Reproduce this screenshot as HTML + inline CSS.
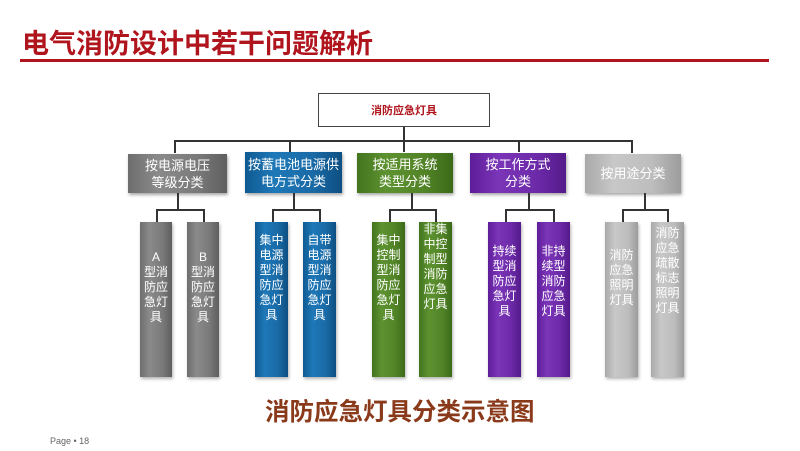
<!DOCTYPE html>
<html><head><meta charset="utf-8"><style>
*{margin:0;padding:0;box-sizing:border-box}
body{width:800px;height:451px;background:#fff;position:relative;overflow:hidden;font-family:"Liberation Sans","Noto Sans CJK SC",sans-serif}
.a{position:absolute}
.t{left:22px;top:22px;font-size:27px;font-weight:bold;color:#b0141c;letter-spacing:0px}
.l{background:#333}
.b{position:absolute;display:flex;align-items:center;justify-content:center;text-align:center;color:#fff;font-size:13px;line-height:17px;box-shadow:1px 2px 3px rgba(0,0,0,.35)}
.f{position:absolute;color:#fff;font-size:12px;line-height:15px;text-align:center;padding:0 3px;box-shadow:1px 2px 3px rgba(0,0,0,.3)}
.g1{background:linear-gradient(90deg,#6e6e6e,#8a8a8a 30%,#7a7a7a 70%,#5e5e5e)}
.g2{background:linear-gradient(90deg,#0f5a92,#1e78b8 30%,#1a6aa6 70%,#0d4f82)}
.g3{background:linear-gradient(90deg,#43741e,#5d9230 30%,#528427 70%,#3b6a18)}
.g4{background:linear-gradient(90deg,#5e1d99,#7b35b8 30%,#6c2aa8 70%,#541a8a)}
.g5{background:linear-gradient(90deg,#a9a9a9,#c8c8c8 30%,#bdbdbd 70%,#9c9c9c)}
</style></head><body>
<div class="a t">电气消防设计中若干问题解析</div>
<div class="a" style="left:20px;top:59px;width:749px;height:3px;background:#b0141c"></div>

<div class="a" style="left:318px;top:93px;width:172px;height:34px;border:1.5px solid #444;display:flex;align-items:center;justify-content:center;font-size:11px;font-weight:bold;color:#b0141c">消防应急灯具</div>
<div class="a l" style="left:403px;top:127px;width:1.5px;height:14px"></div>
<div class="a l" style="left:174px;top:140px;width:458px;height:1.5px"></div>
<div class="a l" style="left:174px;top:140px;width:1.5px;height:13px"></div>
<div class="a l" style="left:289px;top:140px;width:1.5px;height:12px"></div>
<div class="a l" style="left:403px;top:140px;width:1.5px;height:12px"></div>
<div class="a l" style="left:518px;top:140px;width:1.5px;height:12px"></div>
<div class="a l" style="left:631px;top:140px;width:1.5px;height:13px"></div>

<div class="b g1" style="left:128px;top:154px;width:99px;height:39px">按电源电压<br>等级分类</div>
<div class="b g2" style="left:245px;top:152px;width:97px;height:41px">按蓄电池电源供<br>电方式分类</div>
<div class="b g3" style="left:357px;top:153px;width:96px;height:40px">按适用系统<br>类型分类</div>
<div class="b g4" style="left:470px;top:153px;width:96px;height:40px">按工作方式<br>分类</div>
<div class="b g5" style="left:585px;top:154px;width:96px;height:39px">按用途分类</div>

<div class="a l" style="left:177px;top:193px;width:1.5px;height:17px"></div>
<div class="a l" style="left:156px;top:209px;width:48px;height:1.5px"></div>
<div class="a l" style="left:156px;top:209px;width:1.5px;height:13px"></div>
<div class="a l" style="left:203px;top:209px;width:1.5px;height:13px"></div>

<div class="a l" style="left:293px;top:193px;width:1.5px;height:17px"></div>
<div class="a l" style="left:272px;top:209px;width:48px;height:1.5px"></div>
<div class="a l" style="left:272px;top:209px;width:1.5px;height:13px"></div>
<div class="a l" style="left:319px;top:209px;width:1.5px;height:13px"></div>

<div class="a l" style="left:411px;top:193px;width:1.5px;height:17px"></div>
<div class="a l" style="left:389px;top:209px;width:47px;height:1.5px"></div>
<div class="a l" style="left:389px;top:209px;width:1.5px;height:13px"></div>
<div class="a l" style="left:435px;top:209px;width:1.5px;height:13px"></div>

<div class="a l" style="left:528px;top:193px;width:1.5px;height:17px"></div>
<div class="a l" style="left:505px;top:209px;width:49px;height:1.5px"></div>
<div class="a l" style="left:505px;top:209px;width:1.5px;height:13px"></div>
<div class="a l" style="left:553px;top:209px;width:1.5px;height:13px"></div>

<div class="a l" style="left:644px;top:193px;width:1.5px;height:17px"></div>
<div class="a l" style="left:622px;top:209px;width:46px;height:1.5px"></div>
<div class="a l" style="left:622px;top:209px;width:1.5px;height:13px"></div>
<div class="a l" style="left:667px;top:209px;width:1.5px;height:13px"></div>

<div class="f g1" style="left:140px;top:222px;width:32px;height:155px;padding-top:28px">A<br>型消<br>防应<br>急灯<br>具</div>
<div class="f g1" style="left:187px;top:222px;width:32px;height:155px;padding-top:28px">B<br>型消<br>防应<br>急灯<br>具</div>
<div class="f g2" style="left:255px;top:222px;width:33px;height:155px;padding-top:11px">集中<br>电源<br>型消<br>防应<br>急灯<br>具</div>
<div class="f g2" style="left:303px;top:222px;width:33px;height:155px;padding-top:11px">自带<br>电源<br>型消<br>防应<br>急灯<br>具</div>
<div class="f g3" style="left:372px;top:222px;width:33px;height:155px;padding-top:11px">集中<br>控制<br>型消<br>防应<br>急灯<br>具</div>
<div class="f g3" style="left:419px;top:222px;width:33px;height:155px;padding-top:0px">非集<br>中控<br>制型<br>消防<br>应急<br>灯具</div>
<div class="f g4" style="left:488px;top:222px;width:33px;height:155px;padding-top:22px">持续<br>型消<br>防应<br>急灯<br>具</div>
<div class="f g4" style="left:537px;top:222px;width:33px;height:155px;padding-top:22px">非持<br>续型<br>消防<br>应急<br>灯具</div>
<div class="f g5" style="left:605px;top:222px;width:33px;height:155px;padding-top:26px">消防<br>应急<br>照明<br>灯具</div>
<div class="f g5" style="left:651px;top:222px;width:33px;height:155px;padding-top:4px">消防<br>应急<br>疏散<br>标志<br>照明<br>灯具</div>

<div class="a" style="left:265px;top:393px;font-size:24.5px;font-weight:bold;color:#8a3a1a;white-space:nowrap">消防应急灯具分类示意图</div>
<div class="a" style="left:50px;top:436px;font-size:9px;color:#666">Page • 18</div>
</body></html>
